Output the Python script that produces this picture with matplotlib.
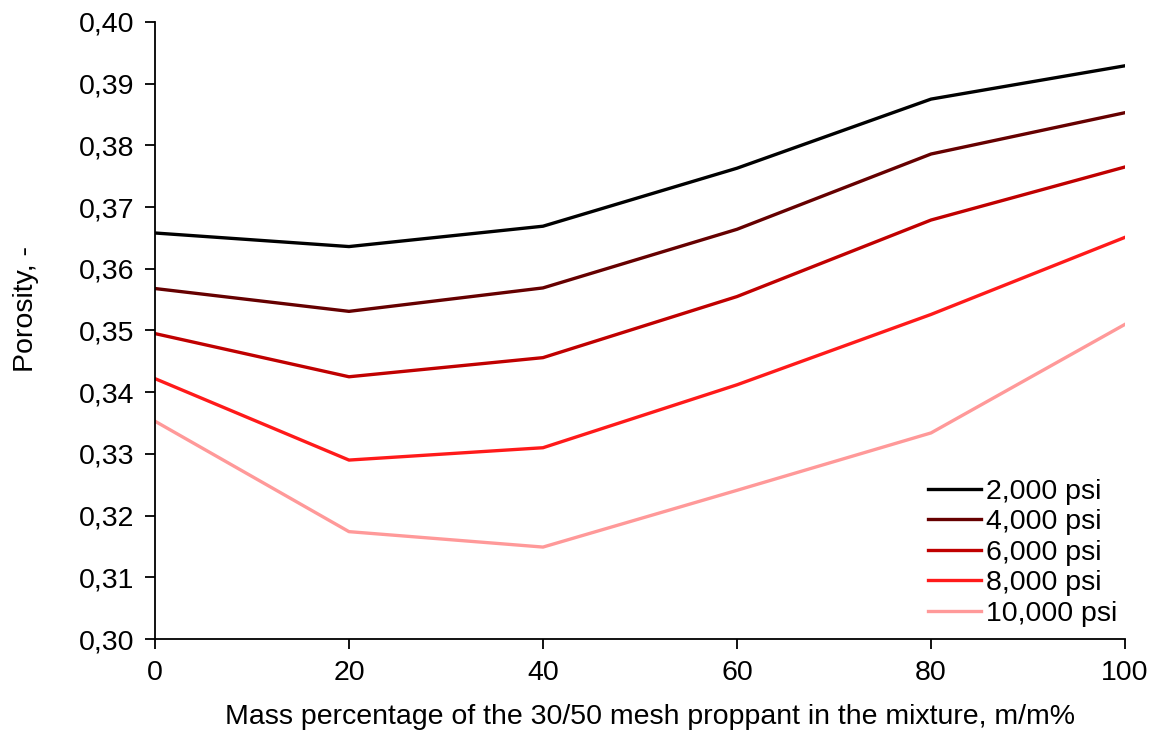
import matplotlib
matplotlib.use("Agg")
import matplotlib.pyplot as plt
from matplotlib.ticker import FuncFormatter

plt.rcParams['font.family'] = ['Liberation Sans', 'DejaVu Sans']

# datos
mass_pct = [0, 20, 40, 60, 80, 100]
series_labels = ["2,000 psi", "4,000 psi", "6,000 psi", "8,000 psi", "10,000 psi"]
p2000 = [0.3658, 0.3636, 0.3669, 0.3763, 0.3875, 0.3929]
p4000 = [0.3568, 0.3531, 0.3569, 0.3664, 0.3786, 0.3853]
p6000 = [0.3495, 0.3425, 0.3456, 0.3555, 0.3679, 0.3765]
p8000 = [0.3422, 0.3290, 0.3310, 0.3412, 0.3526, 0.3651]
p10000 = [0.3353, 0.3174, 0.3149, 0.3241, 0.3334, 0.3510]
colores = ["#000000", "#660000", "#C00000", "#FF1A1A", "#FF9999"]

fig = plt.figure(figsize=(11.59, 7.42), dpi=100)
ax = fig.add_axes([0.1337, 0.1388, 0.9707 - 0.1337, 0.9704 - 0.1388])

for vals, lab, c in zip([p2000, p4000, p6000, p8000, p10000], series_labels, colores):
    ax.plot(mass_pct, vals, color=c, lw=2.4, label=lab)

ax.set_xlim(0, 100)
ax.set_ylim(0.30, 0.40)
ax.set_xticks(mass_pct)
ax.set_yticks([0.30 + 0.01 * i for i in range(11)])
ax.yaxis.set_major_formatter(FuncFormatter(lambda v, p: f"{v:.2f}".replace(".", ",")))

for s in ["top", "right"]:
    ax.spines[s].set_visible(False)
for s in ["left", "bottom"]:
    ax.spines[s].set_linewidth(1.3)
ax.tick_params(axis="both", direction="out", length=7, width=1.3, labelsize=20.5, pad=8)

ax.set_xlabel("Mass percentage of the 30/50 mesh proppant in the mixture, m/m%", fontsize=20.5)
ax.xaxis.set_label_coords(0.51, -0.105)
ax.set_ylabel("Porosity, -", fontsize=20.5)
ax.yaxis.set_label_coords(-0.12, 0.535)

ax.legend(loc="lower right", bbox_to_anchor=(1.01, -0.008), frameon=False, fontsize=20.5,
          handlelength=1.85, handletextpad=0.2, labelspacing=0.16, borderaxespad=0.2)

plt.savefig("out.png", dpi=100)
plt.close()
